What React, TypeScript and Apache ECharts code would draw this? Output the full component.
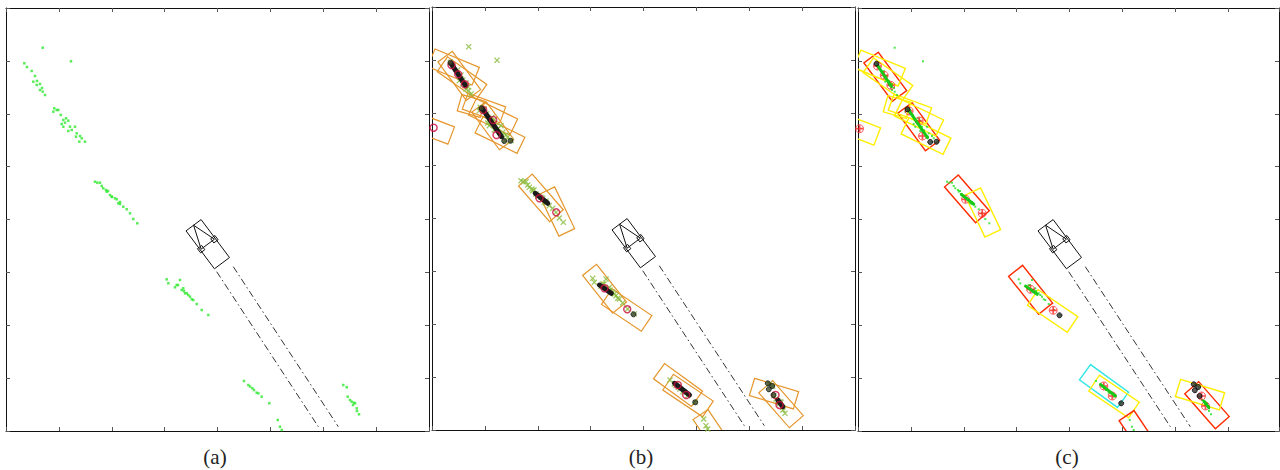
import React, { useEffect, useRef } from "react";
import * as echarts from "echarts";

// ---------------- data (axis units: 1 tick = 1) ----------------
const panelCaptions = ["(a)", "(b)", "(c)"];

// ego vehicle: [centerX, centerY, length, width, headingDeg]
const egoVehicle = [[3.816, 3.533, 0.896, 0.356, -53.2]];

// dash-dot path boundaries: [x1, y1, x2, y2]
const laneLines = [
  [3.985, 3.013, 5.907, 0.081],
  [4.299, 3.107, 6.285, 0.081],
];

// raw laser points
const lidarPoints = [
  [0.346, 6.954], [0.397, 6.884], [0.486, 6.809], [0.548, 6.714], [0.516, 6.606], [0.586, 6.62],
  [0.643, 6.563], [0.681, 6.487], [0.643, 6.449], [0.738, 6.355], [0.581, 6.544], [0.694, 6.418],
  [0.694, 7.249], [1.229, 6.992],
  [0.913, 6.103], [0.989, 6.071], [0.895, 6.039], [1.035, 5.977], [1.135, 5.914], [1.178, 5.869],
  [1.053, 5.806], [1.084, 5.755], [1.21, 5.755], [1.178, 5.674], [1.305, 5.755], [1.324, 5.566],
  [1.4, 5.579], [1.386, 5.471], [1.494, 5.471], [0.959, 6.071], [1.084, 5.882], [1.116, 5.831],
  [1.243, 5.693], [1.337, 5.63], [1.432, 5.536],
  [1.683, 4.715], [1.778, 4.696], [1.84, 4.59], [1.905, 4.526], [1.929, 4.539], [1.967, 4.463],
  [2.005, 4.426], [2.061, 4.401], [2.124, 4.306], [2.156, 4.331], [2.218, 4.242], [2.345, 4.117],
  [2.408, 4.009], [2.483, 3.928], [1.727, 4.696], [1.81, 4.634], [1.891, 4.558], [1.999, 4.431],
  [2.094, 4.382], [2.156, 4.293], [2.283, 4.193],
  [3.039, 2.869], [3.07, 2.793], [3.291, 2.856], [3.196, 2.718], [3.253, 2.761], [3.323, 2.667],
  [3.366, 2.648], [3.418, 2.604], [3.48, 2.54], [3.512, 2.491], [3.607, 2.402], [3.701, 2.288],
  [3.826, 2.194], [3.228, 2.761], [3.353, 2.699], [3.385, 2.604], [3.448, 2.572], [3.542, 2.478],
  [4.501, 0.946], [4.583, 0.87], [4.615, 0.842], [4.658, 0.808], [4.69, 0.775], [4.741, 0.724],
  [4.836, 0.649], [4.98, 0.524], [4.772, 0.712],
  [5.139, 0.208], [5.182, 0.081], [5.214, 0.019],
  [6.379, 0.87], [6.444, 0.827], [6.463, 0.649], [6.538, 0.554], [6.563, 0.492], [6.601, 0.524],
  [6.633, 0.429], [6.638, 0.378], [6.676, 0.316], [6.506, 0.586], [6.582, 0.535],
];

// box hypotheses: [centerX, centerY, length, width, angleDeg]
const hypothesisBoxes = [
  [0.516, 6.699, 0.902, 0.339, -53.5],
  [0.407, 6.865, 0.908, 0.359, -22.5],
  [0.567, 6.657, 0.908, 0.34, -35],
  [1.149, 5.755, 0.883, 0.335, -53.7],
  [0.738, 6.128, 0.45, 0.32, -16],
  [0.983, 6.09, 0.757, 0.322, -20],
  [1.154, 5.92, 0.87, 0.34, -26],
  [1.286, 5.579, 0.883, 0.34, -26],
  [-0.043, 5.725, 0.87, 0.35, -21],
  [2.06, 4.39, 0.895, 0.344, -49],
  [2.36, 4.132, 0.874, 0.329, -64.4],
  [3.264, 2.671, 0.912, 0.337, -51.5],
  [3.682, 2.27, 0.908, 0.357, -34],
  [4.653, 0.851, 0.889, 0.356, -36],
  [4.842, 0.652, 0.908, 0.359, -34],
  [5.333, -0.085, 0.908, 0.34, -56],
  [6.601, 0.488, 0.879, 0.35, -48.8],
  [6.468, 0.688, 0.87, 0.34, -17],
];
// class of each box in panel (c): 0 selected, 1 candidate, 2 new
const boxClassC = [0, 1, 1, 0, 1, 1, 1, 1, 1, 0, 1, 0, 1, 2, 1, 0, 0, 1];

// object cores: [x1, y1, x2, y2]
const trackCores = [
  [0.359, 6.932, 0.634, 6.512],
  [0.949, 6.084, 1.314, 5.547],
  [1.952, 4.477, 2.19, 4.288],
  [3.168, 2.742, 3.389, 2.585],
  [4.586, 0.883, 4.87, 0.662],
  [6.54, 0.567, 6.635, 0.441],
];

const redMarks = [
  [0.369, 6.903], [0.496, 6.727], [0.62, 6.538], [0.968, 6.052], [1.157, 5.863], [1.22, 5.579],
  [2.033, 4.382], [2.349, 4.117], [3.263, 2.68], [3.692, 2.283], [4.649, 0.851], [4.808, 0.662],
  [6.497, 0.662], [6.572, 0.473], [0.03, 5.717],
];

const darkMarks = [
  [0.35, 6.947], [0.936, 6.084], [1.366, 5.466], [1.485, 5.471], [3.811, 2.188], [4.978, 0.524],
  [6.351, 0.883], [6.434, 0.832], [6.37, 0.77], [6.459, 0.662],
];

// ---------------- styling / layout ----------------
const GRIDS = [
  { left: 6, top: 8, width: 423, height: 423, xMax: 8 },
  { left: 432, top: 7, width: 423, height: 423, xMax: 8 },
  { left: 858, top: 8, width: 421, height: 423, xMax: 421 / 52.875 },
];
const CAPTION_X = [215, 641, 1067];
const C_COLORS = ["#ff2a00", "#ffee00", "#33e6e6"];
const X_SYMBOL = "path://M0,1.5L1.5,0L5,3.5L8.5,0L10,1.5L6.5,5L10,8.5L8.5,10L5,6.5L1.5,10L0,8.5L3.5,5Z";
const PLUS_SYMBOL = "path://M3.8,0H6.2V3.8H10V6.2H6.2V10H3.8V6.2H0V3.8H3.8Z";

function boxRenderer(colorFor: (i: number) => string, lw: number) {
  return (params: any, api: any) => {
    const cx = api.value(0), cy = api.value(1), L = api.value(2), W = api.value(3);
    const a = (api.value(4) * Math.PI) / 180;
    const dx = Math.cos(a), dy = Math.sin(a);
    const px = -dy, py = dx;
    const pts = [[1, 1], [1, -1], [-1, -1], [-1, 1]].map(([s, t]) =>
      api.coord([cx + (s * L * dx) / 2 + (t * W * px) / 2, cy + (s * L * dy) / 2 + (t * W * py) / 2])
    );
    return {
      type: "polygon",
      shape: { points: pts },
      style: { fill: "none", stroke: colorFor(params.dataIndex), lineWidth: lw },
    };
  };
}

function segRenderer(color: string, lw: number, dash?: number[]) {
  return (_p: any, api: any) => {
    const a = api.coord([api.value(0), api.value(1)]);
    const b = api.coord([api.value(2), api.value(3)]);
    return {
      type: "line",
      shape: { x1: a[0], y1: a[1], x2: b[0], y2: b[1] },
      style: { stroke: color, lineWidth: lw, lineDash: dash, lineCap: dash ? "butt" : "round" },
    };
  };
}

function vehicleRenderer(_p: any, api: any) {
  const cx = api.value(0), cy = api.value(1), L = api.value(2), W = api.value(3);
  const a = (api.value(4) * Math.PI) / 180;
  const d = [Math.cos(a), Math.sin(a)];
  const p = [-Math.sin(a), Math.cos(a)];
  const P = (u: number, v: number) => api.coord([cx + u * d[0] + v * p[0], cy + u * d[1] + v * p[1]]);
  const st = { fill: "none", stroke: "#111", lineWidth: 1 };
  const apex = P(-L / 2, 0);
  const wl = P(0, -0.44 * W);
  const wr = P(0, 0.44 * W);
  const sq = (v: number) => {
    const s = 0.05;
    return [P(-s, v - s), P(s, v - s), P(s, v + s), P(-s, v + s)];
  };
  return {
    type: "group",
    children: [
      { type: "polygon", shape: { points: [P(-L / 2, -W / 2), P(-L / 2, W / 2), P(L / 2, W / 2), P(L / 2, -W / 2)] }, style: st },
      { type: "polyline", shape: { points: [wl, apex, wr] }, style: st },
      { type: "line", shape: { x1: wl[0], y1: wl[1], x2: wr[0], y2: wr[1] }, style: st },
      { type: "polygon", shape: { points: sq(-0.44 * W) }, style: st },
      { type: "polygon", shape: { points: sq(0.44 * W) }, style: st },
    ],
  };
}

function commonSeries(p: number) {
  const ax = { xAxisIndex: p, yAxisIndex: p };
  return [
    {
      type: "custom", ...ax, clip: true, z: 5,
      renderItem: segRenderer("#333", 1, [7, 3, 1.5, 3]),
      encode: { x: [0, 2], y: [1, 3] },
      data: laneLines,
    },
    {
      type: "custom", ...ax, clip: true, z: 5,
      renderItem: vehicleRenderer,
      encode: { x: 0, y: 1 },
      data: egoVehicle,
    },
  ];
}

function buildOption() {
  const axisBase = {
    type: "value",
    min: 0,
    interval: 1,
    splitLine: { show: false },
    axisLabel: { show: false },
    axisTick: { show: true, inside: true, length: 4, lineStyle: { color: "#555", width: 1 } },
    axisLine: { show: true, onZero: false, lineStyle: { color: "#111", width: 1 } },
  };
  const xAxis: any[] = [];
  const yAxis: any[] = [];
  for (const pos of ["bottom", "top"]) {
    GRIDS.forEach((g, i) => xAxis.push({ ...axisBase, gridIndex: i, position: pos, max: g.xMax }));
  }
  for (const pos of ["left", "right"]) {
    GRIDS.forEach((_g, i) => yAxis.push({ ...axisBase, gridIndex: i, position: pos, max: 8 }));
  }

  const series: any[] = [];
  // panel (a)
  series.push({
    type: "scatter", xAxisIndex: 0, yAxisIndex: 0, symbol: "rect", symbolSize: 2.5,
    itemStyle: { color: "#2ee82e" }, data: lidarPoints, z: 3,
  });
  series.push(...commonSeries(0));

  // panel (b)
  series.push({
    type: "custom", xAxisIndex: 1, yAxisIndex: 1, clip: true, z: 2,
    renderItem: boxRenderer(() => "#e5962c", 1.2), encode: { x: 0, y: 1 }, data: hypothesisBoxes,
  });
  series.push({
    type: "scatter", xAxisIndex: 1, yAxisIndex: 1, symbol: X_SYMBOL, symbolSize: 6,
    itemStyle: { color: "#88bb3c" }, data: lidarPoints, z: 3, clip: true,
  });
  series.push({
    type: "custom", xAxisIndex: 1, yAxisIndex: 1, clip: true, z: 4,
    renderItem: segRenderer("#1a1a1a", 5), encode: { x: [0, 2], y: [1, 3] }, data: trackCores,
  });
  series.push({
    type: "scatter", xAxisIndex: 1, yAxisIndex: 1, symbol: "circle", symbolSize: 7, clip: true,
    itemStyle: { color: "transparent", borderColor: "#cc1040", borderWidth: 1.5 }, data: redMarks, z: 4,
  });
  series.push({
    type: "scatter", xAxisIndex: 1, yAxisIndex: 1, symbol: "circle", symbolSize: 5,
    itemStyle: { color: "#3c4a2c", borderColor: "#111", borderWidth: 1 }, data: darkMarks, z: 4,
  });
  series.push(...commonSeries(1));

  // panel (c)
  series.push({
    type: "custom", xAxisIndex: 2, yAxisIndex: 2, clip: true, z: 2,
    renderItem: boxRenderer((i) => C_COLORS[boxClassC[i]], 1.4), encode: { x: 0, y: 1 }, data: hypothesisBoxes,
  });
  series.push({
    type: "scatter", xAxisIndex: 2, yAxisIndex: 2, symbol: "rect", symbolSize: 2,
    itemStyle: { color: "#22e022" }, data: lidarPoints, z: 3, clip: true,
  });
  series.push({
    type: "scatter", xAxisIndex: 2, yAxisIndex: 2, symbol: PLUS_SYMBOL, symbolSize: 7, clip: true,
    itemStyle: { color: "#ff1a1a" }, data: redMarks, z: 3,
  });
  series.push({
    type: "scatter", xAxisIndex: 2, yAxisIndex: 2, symbol: "circle", symbolSize: 8, clip: true,
    itemStyle: { color: "transparent", borderColor: "#ff3030", borderWidth: 1 }, data: redMarks, z: 3,
  });
  series.push({
    type: "custom", xAxisIndex: 2, yAxisIndex: 2, clip: true, z: 4,
    renderItem: segRenderer("#18c818", 3), encode: { x: [0, 2], y: [1, 3] }, data: trackCores,
  });
  series.push({
    type: "scatter", xAxisIndex: 2, yAxisIndex: 2, symbol: "circle", symbolSize: 5,
    itemStyle: { color: "#333", borderColor: "#000", borderWidth: 1 }, data: darkMarks, z: 4,
  });
  series.push(...commonSeries(2));

  return {
    animation: false,
    backgroundColor: "#ffffff",
    grid: GRIDS.map((g) => ({ left: g.left, top: g.top, width: g.width, height: g.height })),
    xAxis,
    yAxis,
    series,
    graphic: panelCaptions.map((t, i) => ({
      type: "text",
      x: CAPTION_X[i],
      y: 457,
      style: {
        text: t,
        font: '21px "Liberation Serif", "Times New Roman", serif',
        fill: "#222",
        align: "center",
        verticalAlign: "middle",
      },
    })),
  };
}

export default function App() {
  const ref = useRef<HTMLDivElement>(null);
  useEffect(() => {
    if (!ref.current) return;
    const chart = echarts.init(ref.current, undefined, { renderer: "svg" });
    chart.setOption(buildOption() as any);
    return () => chart.dispose();
  }, []);
  return (
    <div
      ref={ref}
      style={{ position: "absolute", left: 0, top: 0, width: 1280, height: 470, background: "#fff" }}
    />
  );
}
